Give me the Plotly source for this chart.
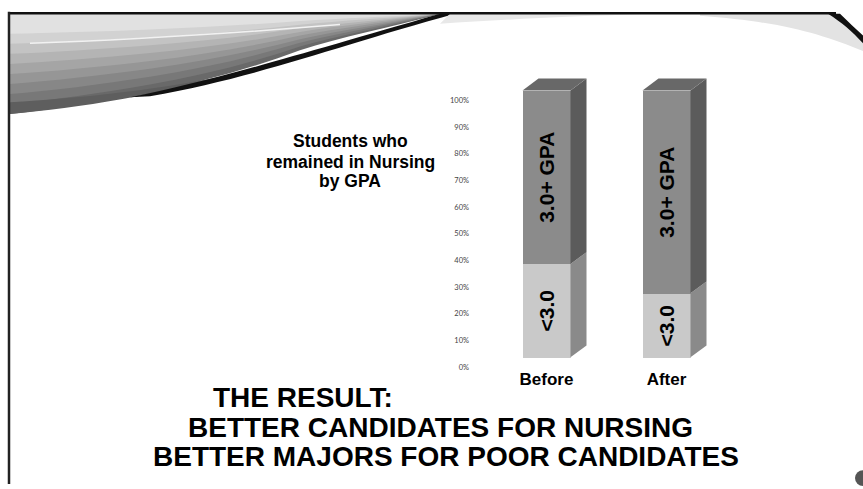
import re
import plotly.graph_objects as go

# ---- data ----
categories = ["Before", "After"]
below_3 = [35, 24]          # % of students with GPA < 3.0
above_3 = [65, 76]          # % of students with GPA 3.0+
series_names = ["<3.0", "3.0+ GPA"]
y_ticks = [0, 10, 20, 30, 40, 50, 60, 70, 80, 90, 100]
y_tick_labels = [f"{v}%" for v in y_ticks]

W, H = 863, 489
FONT = "Liberation Sans"

def X(x):
    return x / W

def Y(y):
    return 1 - y / H

def conv(path):
    return re.sub(r'(-?\d+\.?\d*),(-?\d+\.?\d*)',
                  lambda m: f"{X(float(m.group(1))):.5f},{Y(float(m.group(2))):.5f}", path)

x_pos = [0, 1]
bar_w = 0.4
ddx = 16 / 120          # depth offset in x units
ddy = 12 / 2.72         # depth offset in y units

fig = go.Figure()

fig.add_trace(go.Bar(
    x=x_pos, y=below_3, width=bar_w, name=series_names[0],
    marker=dict(color="#c9c9c9", line=dict(width=0)),
    text=[series_names[0]] * 2, textposition="inside", insidetextanchor="middle",
    textangle=-90, constraintext="none",
    textfont=dict(family=FONT, size=21, color="#000", weight="bold"),
    xaxis="x", yaxis="y", showlegend=False))
fig.add_trace(go.Bar(
    x=x_pos, y=above_3, width=bar_w, name=series_names[1],
    marker=dict(color="#8b8b8b", line=dict(width=0)),
    text=[series_names[1]] * 2, textposition="inside", insidetextanchor="middle",
    textangle=-90, constraintext="none",
    textfont=dict(family=FONT, size=21, color="#000", weight="bold"),
    xaxis="x", yaxis="y", showlegend=False))

# 3D side and top faces derived from the data
for i, xc in enumerate(x_pos):
    xl, xr = xc - bar_w / 2, xc + bar_w / 2
    segs = [(0, below_3[i], "#8a8a8a"), (below_3[i], below_3[i] + above_3[i], "#5b5b5b")]
    for y0, y1, col in segs:
        fig.add_trace(go.Scatter(
            x=[xr, xr + ddx, xr + ddx, xr, xr], y=[y0, y0 + ddy, y1 + ddy, y1, y0],
            mode="lines", fill="toself", fillcolor=col, line=dict(width=0, color=col),
            hoverinfo="skip", showlegend=False, cliponaxis=False, xaxis="x", yaxis="y"))
    top = below_3[i] + above_3[i]
    fig.add_trace(go.Scatter(
        x=[xl, xl + ddx, xr + ddx, xr, xl], y=[top, top + ddy, top + ddy, top, top],
        mode="lines", fill="toself", fillcolor="#686868", line=dict(width=0, color="#686868"),
        hoverinfo="skip", showlegend=False, cliponaxis=False, xaxis="x", yaxis="y"))

# invisible anchor trace so the percentage axis is drawn
fig.add_trace(go.Scatter(x=[0], y=[0], xaxis="x2", yaxis="y2", mode="markers",
                         marker=dict(opacity=0), hoverinfo="skip", showlegend=False))

# ---- decorations (slide frame and swooshes) ----
shapes = []
def add_path(p, fill=None, line_col=None, lw=0):
    d = dict(type="path", path=conv(p), xref="paper", yref="paper", layer="below",
             line=dict(width=lw, color=line_col or "rgba(0,0,0,0)"))
    if fill:
        d["fillcolor"] = fill
    shapes.append(d)

# top-left swoosh band as layered gradient
ctrl = [(10, 112), (50, 108), (100, 100), (150, 90), (200, 80), (250, 66), (300, 47), (340, 34), (390, 24), (440, 10)]
n = 10
for k in range(n, 1, -1):
    f = k / n
    pts = [(x, 10 + f * (y - 10)) for x, y in ctrl]
    g = int(105 + (1 - f) * 150)
    p = "M 10,10 L 440,10 L {},{} C {},{} {},{} {},{} C {},{} {},{} {},{} C {},{} {},{} {},{} Z".format(
        pts[9][0], pts[9][1],
        pts[8][0], pts[8][1], pts[7][0], pts[7][1], pts[6][0], pts[6][1],
        pts[5][0], pts[5][1], pts[4][0], pts[4][1], pts[3][0], pts[3][1],
        pts[2][0], pts[2][1], pts[1][0], pts[1][1], pts[0][0], pts[0][1])
    add_path(p, fill=f"rgb({g},{g},{g})")
add_path("M 30,40 C 120,37 220,31 340,21", line_col="#f2f2f2", lw=1.5)
add_path("M 10,100 C 80,96 160,88 250,68 C 160,92 80,106 10,112 Z", fill="#5e5e5e")
add_path("M 130,95 C 210,79 290,54 440,10 L 455,10 C 340,42 260,74 150,94 Z", fill="#111")
add_path("M 450,10 L 650,10 C 560,13 500,16 440,20 Z", fill="#e8e8e8")
# top-right swoosh
add_path("M 700,10 L 835,10 C 845,20 855,30 863,40 L 863,48 C 820,30 780,18 700,12 Z", fill="#e3e3e3")
add_path("M 828,10 L 840,10 C 848,18 856,26 863,32 L 863,40 C 852,28 842,19 828,10 Z", fill="#111")

# frame lines
shapes.append(dict(type="line", xref="paper", yref="paper", x0=X(8), x1=X(836), y0=Y(9.3), y1=Y(9.3),
                   line=dict(color="#111", width=2.5)))
shapes.append(dict(type="line", xref="paper", yref="paper", x0=X(9), x1=X(9), y0=Y(8), y1=Y(489),
                   line=dict(color="#222", width=2.5)))
shapes.append(dict(type="circle", xref="paper", yref="paper", x0=X(855), x1=X(871), y0=Y(475), y1=Y(491),
                   fillcolor="#555", line=dict(width=0)))

annotations = []
def ann(text, x, y, size, xanchor="center"):
    annotations.append(dict(text=text, x=X(x), y=Y(y), xref="paper", yref="paper",
                            xanchor=xanchor, yanchor="middle", showarrow=False,
                            font=dict(family=FONT, size=size, color="#000", weight="bold")))

ann("Students who", 350, 140, 17.5)
ann("remained in Nursing", 350, 160.5, 17.5)
ann("by GPA", 350, 180.5, 17.5)
ann("THE RESULT:", 211, 401, 28, xanchor="left")
ann("BETTER CANDIDATES FOR NURSING", 441, 431, 28)
ann("BETTER MAJORS FOR POOR CANDIDATES", 446, 461, 28)

# axis geometry
y_lo, y_hi = -2, 110
px_per = 2.72
y_dom = [(H - (360 + 2 * px_per)) / H, (H - (88 - 10 * px_per)) / H]

fig.update_layout(
    width=W, height=H, margin=dict(l=0, r=0, t=0, b=0),
    paper_bgcolor="white", plot_bgcolor="rgba(0,0,0,0)",
    barmode="stack", bargap=0,
    shapes=shapes, annotations=annotations,
    xaxis=dict(domain=[426.5 / W, 786.5 / W], range=[-1, 2], tickvals=x_pos, ticktext=categories,
               showgrid=False, zeroline=False, showline=False, ticks="", ticklabelstandoff=4,
               tickfont=dict(family=FONT, size=17, color="#000", weight="bold"), anchor="y"),
    yaxis=dict(domain=y_dom, range=[y_lo, y_hi], visible=False, anchor="x"),
    xaxis2=dict(domain=[470 / W, 472 / W], range=[-1, 1], visible=False, anchor="y2"),
    yaxis2=dict(domain=[(H - 370) / H, (H - 98) / H], range=[0, 100], anchor="x2",
                tickvals=y_ticks, ticktext=y_tick_labels, showgrid=False, zeroline=False,
                showline=False, ticks="", tickfont=dict(family="Lato", size=7.5, color="#444")),
)

fig.write_html("out.html", config={"displayModeBar": False},
               post_script="document.body.style.margin='0';document.body.style.overflow='hidden';")
